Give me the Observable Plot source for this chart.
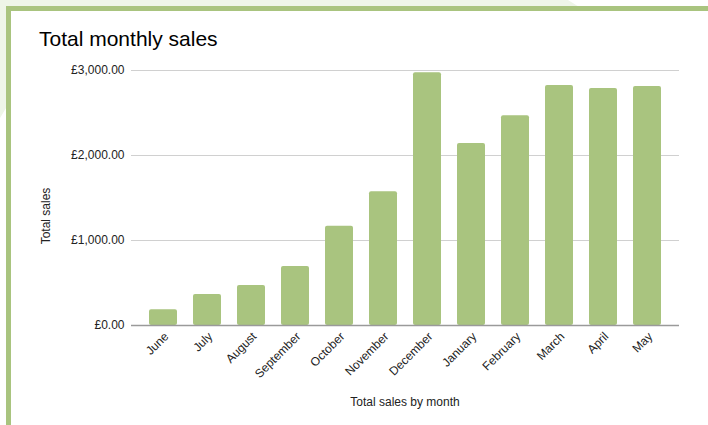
<!DOCTYPE html>
<html>
<head>
<meta charset="utf-8">
<script src="https://cdn.jsdelivr.net/npm/d3@7"></script>
<script src="https://cdn.jsdelivr.net/npm/@observablehq/plot@0.6"></script>
<style>
  html, body { margin: 0; padding: 0; background: #fff; }
  #wrap { position: relative; width: 708px; height: 425px; overflow: hidden; background: #fff;
          font-family: "Liberation Sans", Arial, sans-serif; }
  .bgshape { position: absolute; left: 0; top: 0; width: 708px; height: 425px; background: #eef5e8;
             clip-path: polygon(0 0, 568px 0, 600px 20px, 20px 85px, 0 118px); }
  .card { position: absolute; left: 6px; top: 6px; right: -10px; bottom: -10px; background: #fff;
          border-top: 5px solid #a9c47f; border-left: 5px solid #a9c47f; }
  .title { position: absolute; left: 39px; top: 28px; font-size: 21px; line-height: 21px; color: #000; white-space: nowrap; }
  .ytitle { position: absolute; left: 46px; top: 216px; font-size: 12px; line-height: 12px; color: #222;
            transform: translate(-50%, -50%) rotate(-90deg); white-space: nowrap; }
  .xtitle { position: absolute; left: 405px; top: 396px; font-size: 12px; line-height: 12px; color: #222;
            transform: translateX(-50%); white-space: nowrap; }
  #chart { position: absolute; left: 0; top: 0; }
</style>
</head>
<body>
<div id="wrap">
  <div class="bgshape"></div>
  <div class="card"></div>
  <div class="title">Total monthly sales</div>
  <div class="ytitle">Total sales</div>
  <div class="xtitle">Total sales by month</div>
  <div id="chart"></div>
</div>
<script>
const months = ["June", "July", "August", "September", "October", "November", "December", "January", "February", "March", "April", "May"];
const sales = [185, 365, 470, 694, 1168, 1573, 2973, 2141, 2467, 2824, 2788, 2812];
const yTicks = [0, 1000, 2000, 3000];

const data = months.map((m, i) => ({month: m, value: sales[i]}));
const fmt = d3.format(",.2f");

const chart = Plot.plot({
  width: 708,
  height: 425,
  marginLeft: 131,
  marginRight: 29,
  marginTop: 70,
  marginBottom: 100,
  style: {fontFamily: "'Liberation Sans', Arial, sans-serif", fontSize: "12px", color: "#222", background: "transparent"},
  x: {domain: months, paddingInner: 0.37, paddingOuter: 0.35},
  y: {domain: [0, 3000]},
  marks: [
    Plot.gridY(yTicks, {stroke: "#d0d0d0", strokeOpacity: 1, strokeWidth: 1}),
    Plot.barY(data, {x: "month", y: "value", fill: "#a9c47f", rx: 2}),
    Plot.ruleY([0], {stroke: "#9a9a9a", strokeWidth: 1.5}),
    Plot.axisY(yTicks, {tickSize: 0, tickPadding: 7, tickFormat: d => "£" + fmt(d), label: null, fontSize: 12, fill: "#222"}),
    Plot.axisX({tickSize: 0, tickPadding: 9, tickRotate: -45, dx: 3, label: null, fontSize: 12, fill: "#222"})
  ]
});
document.getElementById("chart").appendChild(chart);
</script>
</body>
</html>
